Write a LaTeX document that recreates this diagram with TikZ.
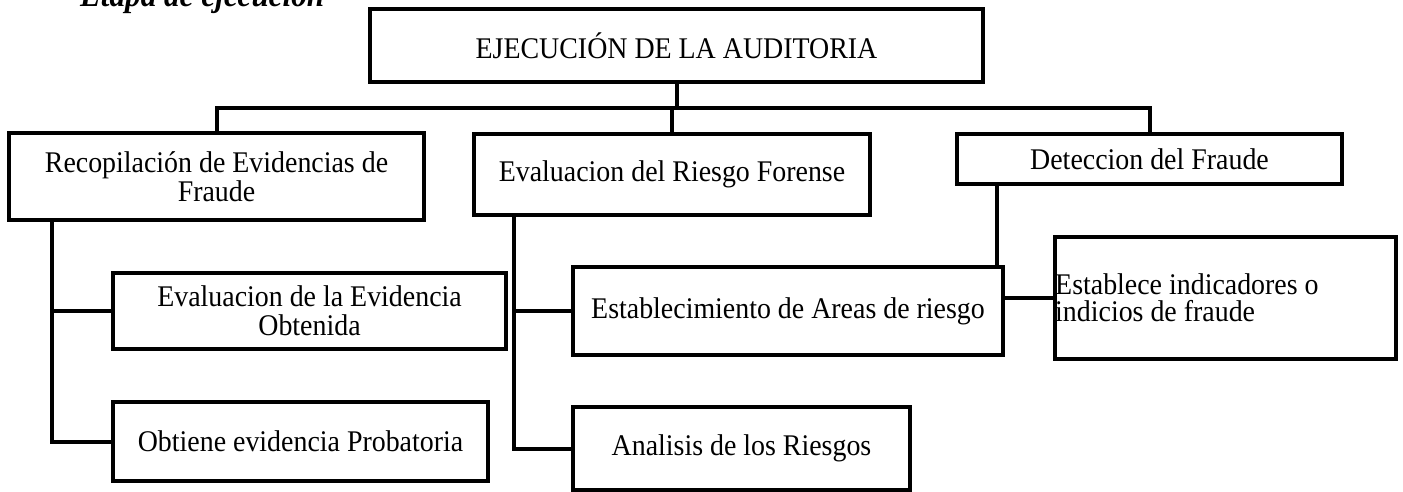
\documentclass[tikz,border=0pt]{standalone}
\usepackage{fontspec}
\setmainfont{Liberation Serif}[FakeStretch=0.93]
\begin{document}
\begin{tikzpicture}[x=1pt,y=-1pt,
  box/.style={draw=black, line width=4pt, rectangle, inner sep=2pt, align=center,
    font=\fontsize{30}{29}\selectfont},
  conn/.style={draw=black, line width=4pt}]
\useasboundingbox (0,0) rectangle (1403,491);
\node[anchor=base west, inner sep=0pt, font=\fontsize{33.5}{34}\selectfont\bfseries\itshape] (title) at (80,6) {Etapa de ejecución};
\node[box, minimum width=613pt, minimum height=73pt] (top) at (676.5,45.5) {EJECUCIÓN DE LA AUDITORIA};
\node[box, minimum width=415pt, minimum height=87pt] (b1) at (216.5,176.5) {Recopilación de Evidencias de\\Fraude};
\node[box, minimum width=396pt, minimum height=81pt] (b2) at (672,174.5) {Evaluacion del Riesgo Forense};
\node[box, minimum width=385pt, minimum height=50pt] (b3) at (1149.5,159) {Deteccion del Fraude};
\node[box, minimum width=393pt, minimum height=76pt] (e1) at (309.5,311) {Evaluacion de la Evidencia\\Obtenida};
\node[box, minimum width=375pt, minimum height=79pt] (e2) at (300.5,441.5) {Obtiene evidencia Probatoria};
\node[box, minimum width=430pt, minimum height=88pt] (f1) at (788,311) {Establecimiento de Areas de riesgo};
\node[box, minimum width=337pt, minimum height=83pt] (f2) at (741.5,448.5) {Analisis de los Riesgos};
\node[box, minimum width=341pt, minimum height=122pt] (g) at (1225.5,298) {};
\node[anchor=west, inner sep=0pt, align=left, font=\fontsize{30}{27}\selectfont] (gt) at ([xshift=2pt]g.west) {Establece indicadores o\\indicios de fraude};
\coordinate (bus) at (0,108);
\coordinate (s1) at (52,0);
\coordinate (s2) at (514,0);
\coordinate (s3) at (997,0);
\draw[conn] (top.south) -- (top.south |- bus);
\draw[conn] (b1.north) |- (b3.north |- bus) -- (b3.north);
\draw[conn] (b2.north) -- (b2.north |- bus);
\draw[conn] (b1.south -| s1) |- (e2.west);
\draw[conn] (e1.west -| s1) -- (e1.west);
\draw[conn] (b2.south -| s2) |- (f2.west);
\draw[conn] (f1.west -| s2) -- (f1.west);
\draw[conn] (b3.south -| s3) -- (f1.north -| s3);
\draw[conn] (f1.east |- g.west) -- (g.west);
\end{tikzpicture}
\end{document}
